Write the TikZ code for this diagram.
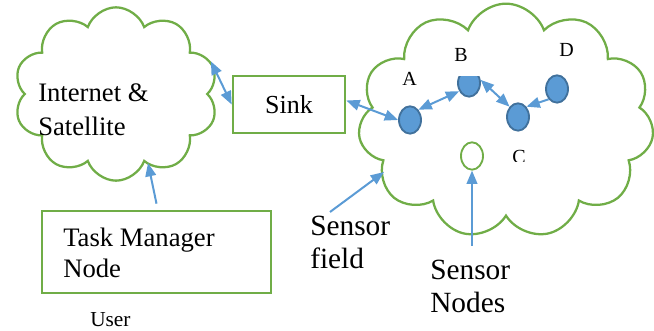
\documentclass[tikz,border=0pt]{standalone}
\usepackage{fontspec}
\setmainfont{Liberation Serif}
\usetikzlibrary{arrows.meta,shapes,calc}
\definecolor{wsngreen}{HTML}{70AD47}
\definecolor{wsnblue}{HTML}{5B9BD5}
\definecolor{wsnedge}{HTML}{41719C}

\begin{document}
\begin{tikzpicture}[x=0.75pt,y=-0.75pt]
\tikzset{
  cloudy/.style={cloud,cloud puffs=10,cloud puff arc=140,cloud ignores aspect,
    draw=wsngreen,line width=1.7pt,inner sep=0},
  frame/.style={draw=wsngreen,line width=2pt,inner sep=0},
  mote/.style={ellipse,draw=wsnedge,fill=wsnblue,line width=1.4pt,
    minimum width=16.5pt,minimum height=20.5pt,inner sep=0},
  txt/.style={inner sep=0,align=left,anchor=base west},
  lab/.style={inner sep=0,anchor=base west,font=\fontsize{15}{18}\selectfont},
  link/.style={draw=wsnblue,line width=1.5pt,-{Triangle[length=10pt,width=8pt]}},
  both/.style={link,{Triangle[length=10pt,width=8pt]}-{Triangle[length=10pt,width=8pt]}},
}
\useasboundingbox (0,0) rectangle (654,331);

% clouds
\node[cloudy,minimum width=153pt,minimum height=130pt](net)at(116,94){};
\node[cloudy,cloud puffs=11,minimum width=222pt,minimum height=176pt](wsn)at(506,121){};

% boxes
\node[frame,minimum width=84pt,minimum height=42.75pt,
  font=\fontsize{19.5}{24}\selectfont](sink)at(289,104.5){Sink};
\node[frame,minimum width=171.75pt,minimum height=61.5pt](task)at(156.5,252){};

% texts (base = last line)
\node[txt,font=\fontsize{20}{25.5}\selectfont](nettext)at(38,136){Internet \&\\Satellite};
\node[txt,font=\fontsize{20}{23.25}\selectfont](tasktext)at(63,278){Task Manager\\Node};
\node[txt,font=\fontsize{16}{19}\selectfont](user)at(90,327){User};
\node[txt,font=\fontsize{22}{24.75}\selectfont](fieldtext)at(310,269){Sensor\\field};
\node[txt,font=\fontsize{22}{24.75}\selectfont](nodestext)at(430,313){Sensor\\Nodes};

% sensor nodes
\node[mote](A)at(410,120){};
\begin{scope}
\clip(440,77)rectangle(500,110);
\node[mote](B)at(469,83){};
\end{scope}
\node[mote](C)at(518,117){};
\node[mote](D)at(557,89){};
\node[mote,fill=none,draw=wsngreen](idle)at(472,156){};

\node[lab](labA)at(402,86){A};
\node[lab](labB)at(454,62){B};
\node[lab](labD)at(559,57){D};
\begin{scope}
\clip(500,140)rectangle(540,162);
\node[lab](labC)at(512,164){C};
\end{scope}

% connectors
\coordinate(netfoot)at(148,163);
\coordinate(fieldfoot)at(330,212);
\coordinate(fieldtip)at(384,172);
\coordinate(nodesfoot)at(472,246);

\draw[both](net.19)--(sink.west);
\draw[both]([yshift=3pt]sink.east)--(A.west);
\draw[both](A.north east)--(B.-140);
\draw[both](B.15)--(C.north west);
\draw[link](D.south west)--(C.north east);
\draw[link]([yshift=4.5pt]task.north)--(netfoot);
\draw[link](fieldfoot)--(fieldtip);
\draw[link](nodesfoot)--(idle.south);
\end{tikzpicture}
\end{document}
